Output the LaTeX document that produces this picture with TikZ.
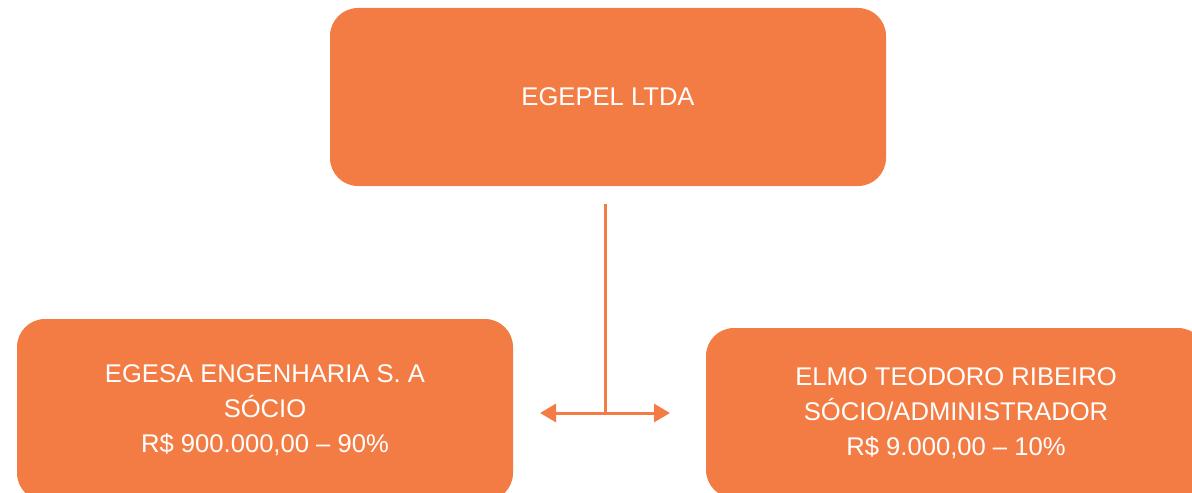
\documentclass[tikz,border=0pt]{standalone}
\usepackage{fontspec}
\setmainfont{Liberation Sans}
\usetikzlibrary{arrows.meta}
\definecolor{boxorange}{RGB}{243,124,68}

\begin{document}
\begin{tikzpicture}[x=0.5pt,y=-0.5pt]
            \tikzstyle{every node}+=[inner sep=0pt]
            \tikzstyle{orgbox}=[fill=boxorange, rounded corners=14pt, text=white, align=center,
                font=\fontsize{12.8pt}{17.5pt}\selectfont]
            \useasboundingbox (0,0) rectangle (1192,492);
            \clip (0,0) rectangle (1192,492);
            \node [orgbox, minimum width=278pt, minimum height=89pt] (egepel) at (608,97) {EGEPEL LTDA};
            \node [orgbox, minimum width=248pt, minimum height=91pt] (egesa) at (265,410)
                {EGESA ENGENHARIA S. A\\ SÓCIO\\ R\$ 900.000,00 – 90\%};
            \node [orgbox, minimum width=250pt, minimum height=85pt] (elmo) at (956,413)
                {ELMO TEODORO RIBEIRO\\ SÓCIO/ADMINISTRADOR\\ R\$ 9.000,00 – 10\%};
            \coordinate (stem) at (605,204);
            \coordinate (junction) at (605,413);
            \coordinate (leftend) at (540,413);
            \coordinate (rightend) at (670,413);
            \draw [boxorange, line width=1.5pt] (stem) -- (junction);
            \draw [boxorange, line width=1.5pt, -{Triangle[length=8pt,width=9pt]}] (junction) -- (leftend);
            \draw [boxorange, line width=1.5pt, -{Triangle[length=8pt,width=9pt]}] (junction) -- (rightend);
        \end{tikzpicture}
\end{document}
